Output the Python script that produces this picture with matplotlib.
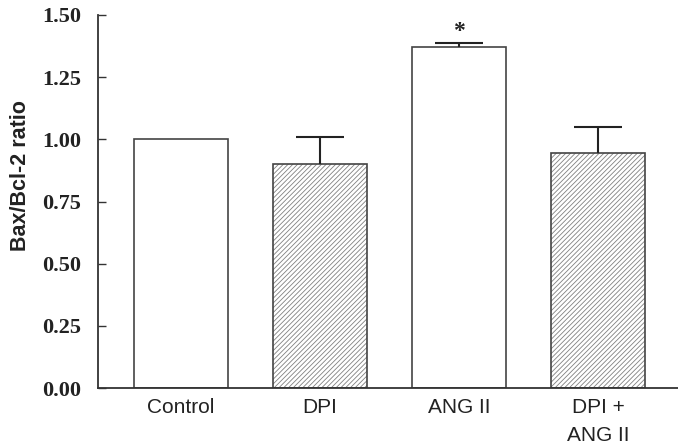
import matplotlib
matplotlib.use("Agg")
import matplotlib.pyplot as plt
import numpy as np

categories = ["Control", "DPI", "ANG II", "DPI +\nANG II"]
values = [1.00, 0.90, 1.37, 0.945]
errors = [0.0, 0.11, 0.018, 0.105]
hatched = [False, True, False, True]
yticks = [0.00, 0.25, 0.50, 0.75, 1.00, 1.25, 1.50]
ylabel = "Bax/Bcl-2 ratio"
sig_marks = ["", "", "*", ""]

plt.rcParams['hatch.linewidth'] = 0.6

fig = plt.figure(figsize=(6.78, 4.47), dpi=100)
ax = fig.add_axes([98/678, 1 - 388/447, 1 - 98/678, (388 - 15)/447])

x = np.arange(len(categories))
width = 0.67
cap_half = 0.17
edge = "#444444"
for xi, v, h in zip(x, values, hatched):
    if h:
        ax.bar(xi, v, width, color="white", edgecolor="#808080", hatch="///////",
               linewidth=0, zorder=2)
    ax.bar(xi, v, width, color="none" if h else "white", edgecolor=edge,
           linewidth=1.2, zorder=3)

for xi, v, e in zip(x, values, errors):
    if e > 0:
        ax.vlines(xi, v, v + e, color="#222222", linewidth=1.5, zorder=4)
        ax.hlines(v + e, xi - cap_half, xi + cap_half, color="#222222",
                  linewidth=1.5, zorder=4)

for xi, v, e, s in zip(x, values, errors, sig_marks):
    if s:
        ax.text(xi, v + e + 0.025, s, ha="center", va="baseline",
                fontsize=17, fontweight="bold", family="Liberation Serif",
                color="#222222")

ax.set_xlim(-0.597, 3.575)
ax.set_ylim(0, 1.5)
ax.set_xticks(x)
ax.set_xticklabels(categories, fontsize=15, family="Liberation Sans",
                   linespacing=1.65, color="#222222")
ax.set_yticks(yticks)
ax.set_yticklabels([f"{t:.2f}" for t in yticks], fontsize=16,
                   family="Liberation Serif", fontweight="bold", color="#222222")
ax.tick_params(axis="x", length=0, pad=7)
ax.tick_params(axis="y", direction="in", length=6, width=1, color="#333333", pad=12)
ax.set_ylabel(ylabel, fontsize=15.5, fontweight="bold", family="Liberation Sans",
              color="#222222")
ax.yaxis.set_label_coords(-0.115, 0.57)

for s in ["top", "right"]:
    ax.spines[s].set_visible(False)
for s in ["left", "bottom"]:
    ax.spines[s].set_linewidth(1.3)
    ax.spines[s].set_color("#333333")
    ax.spines[s].set_zorder(5)

fig.savefig("out.png", dpi=100)
